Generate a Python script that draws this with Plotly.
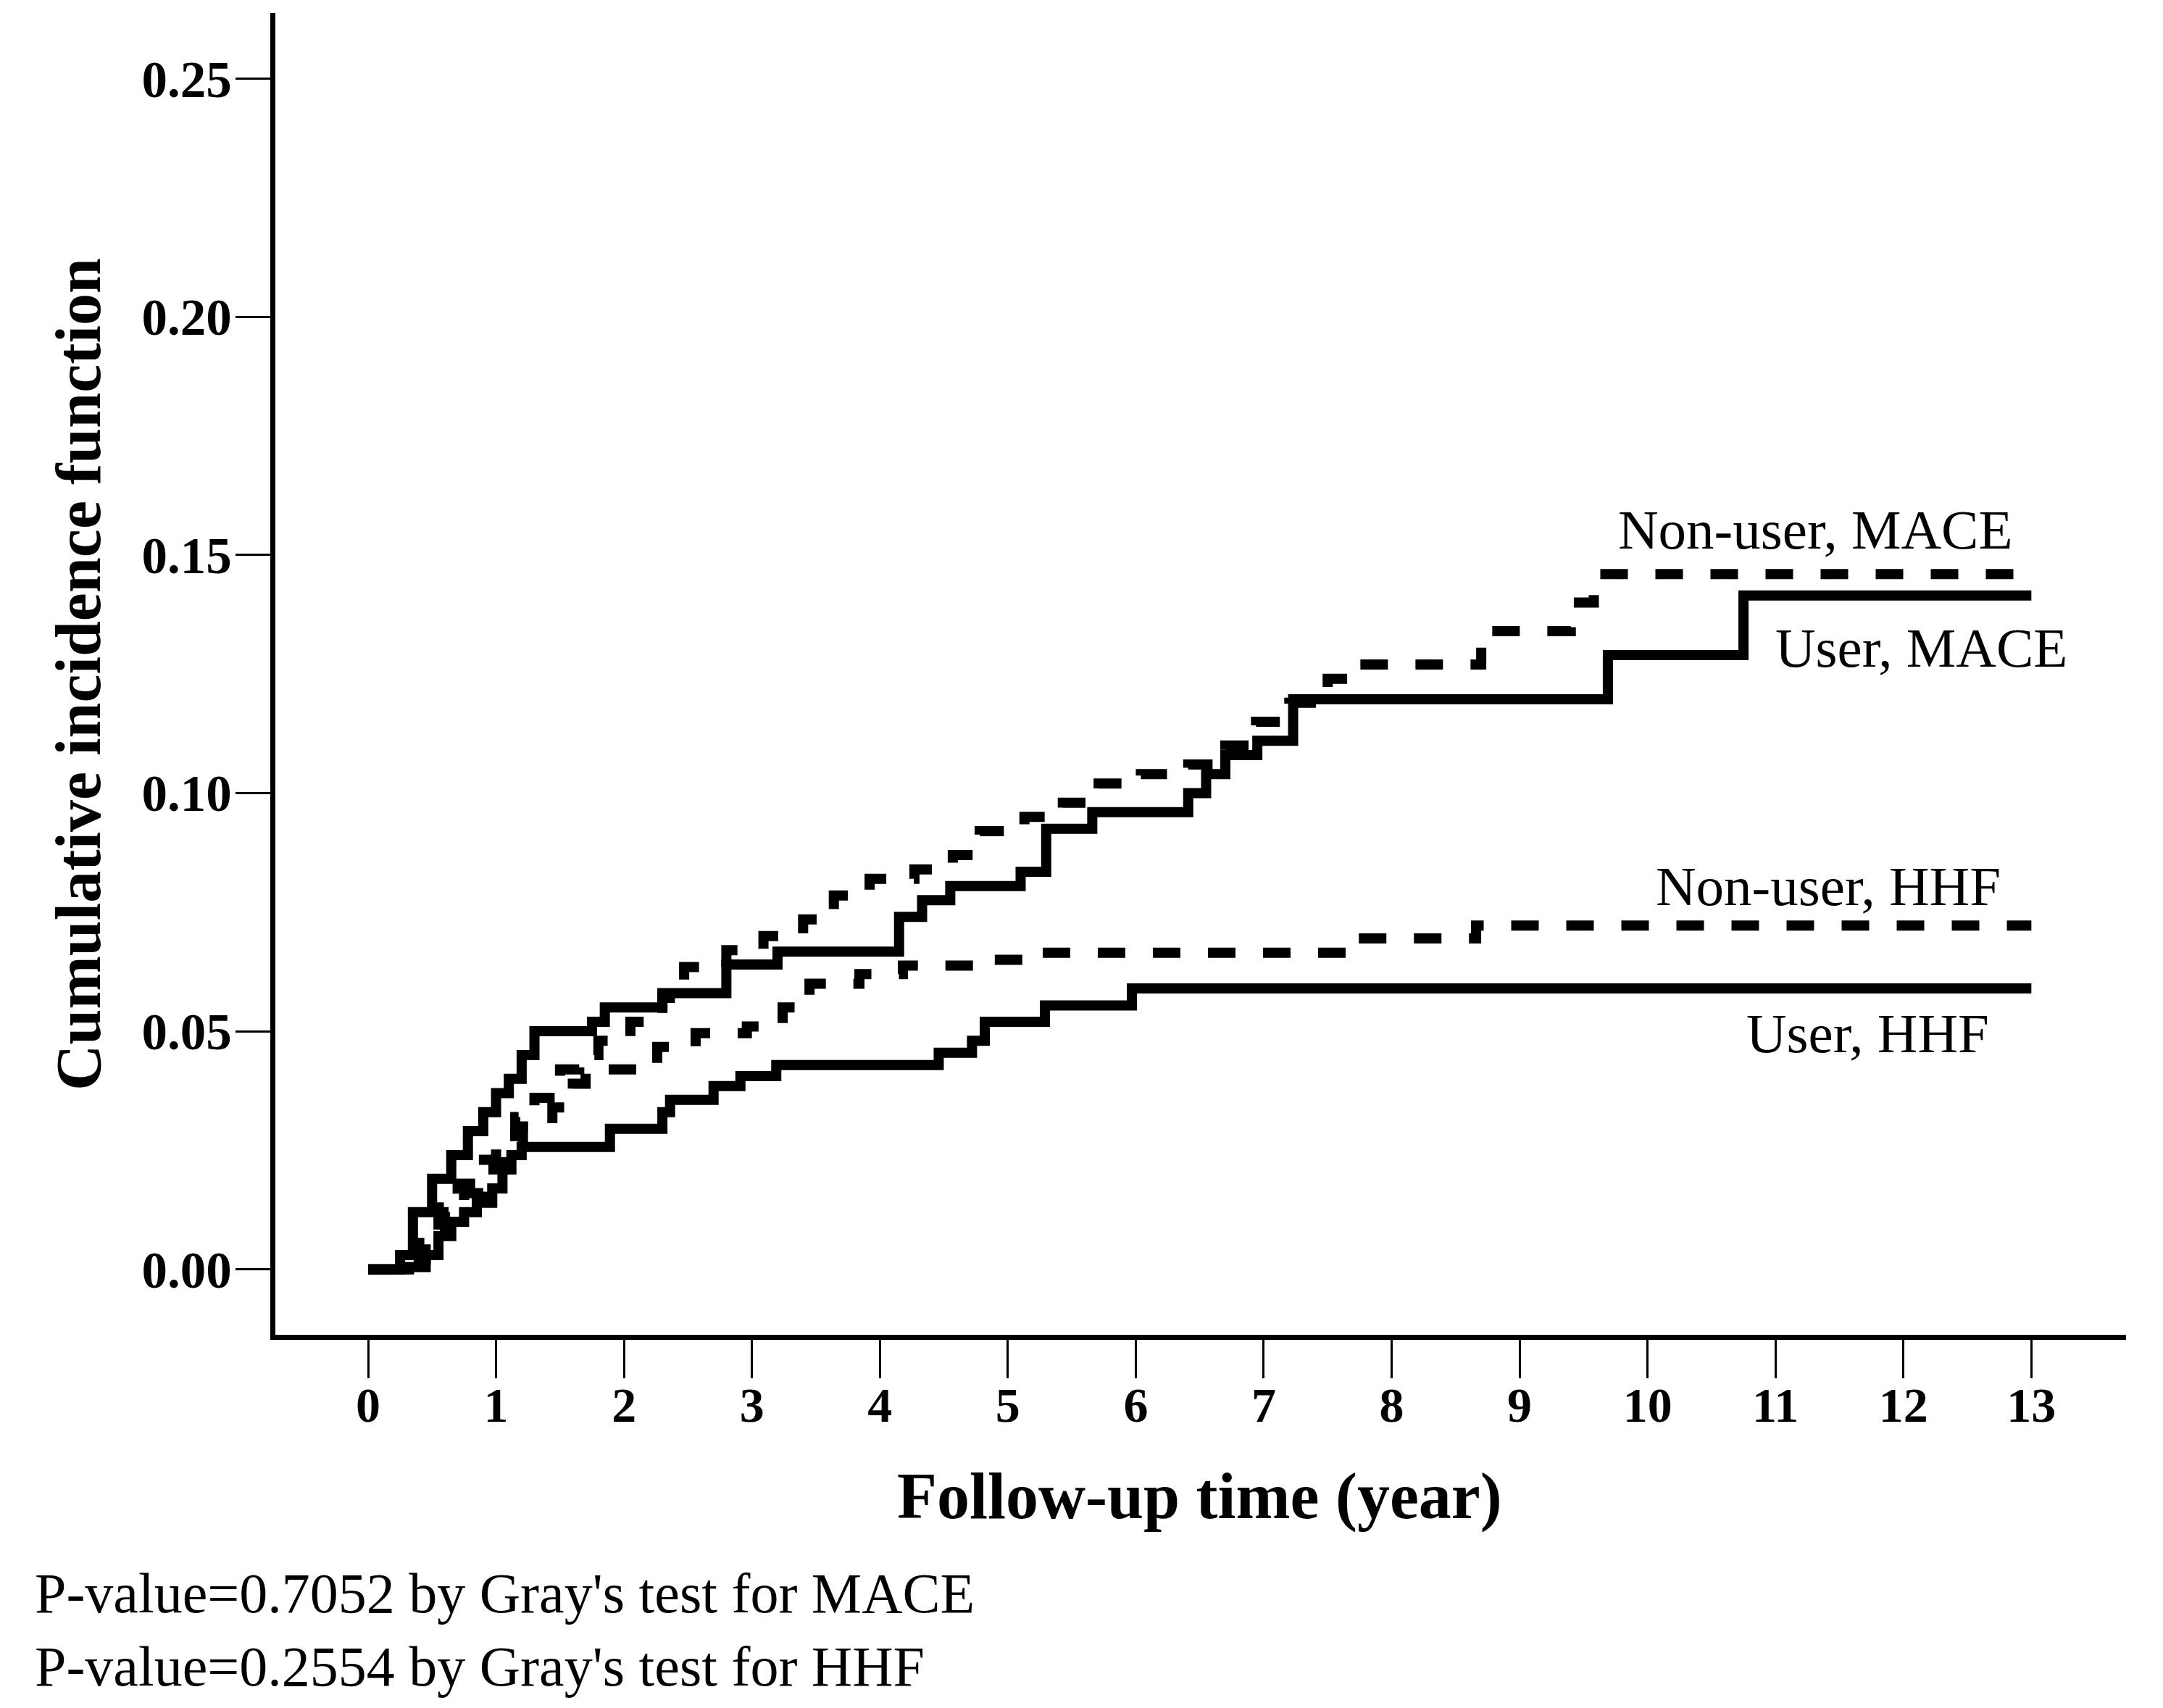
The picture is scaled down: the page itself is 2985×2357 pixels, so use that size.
import plotly.graph_objects as go

# step data (time in years, cumulative incidence)
user_mace_t = [0, 0.25, 0.35, 0.5, 0.65, 0.78, 0.9, 1.0, 1.1, 1.2, 1.3, 1.75, 1.85, 2.3, 2.8, 3.2,
               4.15, 4.33, 4.55, 5.1, 5.3, 5.66, 6.41, 6.55, 6.7, 6.95, 7.23, 9.69, 10.75, 13]
user_mace_v = [0, 0.003, 0.012, 0.019, 0.024, 0.029, 0.033, 0.037, 0.040, 0.045, 0.050, 0.052, 0.055,
               0.058, 0.064, 0.0667, 0.074, 0.0775, 0.0805, 0.0835, 0.0925, 0.096, 0.100, 0.104, 0.108,
               0.111, 0.1197, 0.129, 0.1415, 0.1415]

user_hhf_t = [0, 0.32, 0.45, 0.55, 0.65, 0.75, 0.85, 0.97, 1.05, 1.12, 1.2, 1.89, 2.3, 2.36, 2.70, 2.91,
              3.19, 4.46, 4.72, 4.82, 5.29, 5.97, 13]
user_hhf_v = [0, 0.0005, 0.003, 0.007, 0.010, 0.012, 0.014, 0.017, 0.021, 0.024, 0.0257, 0.0295, 0.033,
              0.0356, 0.0385, 0.0406, 0.0429, 0.0455, 0.048, 0.052, 0.0554, 0.059, 0.059]

nonuser_mace_t = [0, 0.28, 0.4, 0.55, 0.7, 0.85, 1.0, 1.15, 1.3, 1.5, 1.65, 1.8, 2.05, 2.3, 2.47, 2.8,
                  3.09, 3.4, 3.64, 3.92, 4.27, 4.57, 4.78, 5.13, 5.43, 5.71, 6.04, 6.41, 6.70, 6.94,
                  7.2, 7.5, 7.75, 8.7, 9.4, 9.58, 13]
nonuser_mace_v = [0, 0.003, 0.008, 0.013, 0.018, 0.023, 0.028, 0.032, 0.036, 0.042, 0.045, 0.048, 0.052,
                  0.057, 0.0635, 0.067, 0.070, 0.0735, 0.0785, 0.082, 0.084, 0.087, 0.092, 0.095, 0.098,
                  0.102, 0.104, 0.106, 0.110, 0.115, 0.119, 0.124, 0.127, 0.134, 0.140, 0.146, 0.146]

nonuser_hhf_t = [0, 0.3, 0.45, 0.6, 0.75, 0.9, 1.06, 1.21, 1.44, 1.6, 1.7, 2.26, 2.56, 2.96, 3.24, 3.45,
                 3.84, 4.18, 4.85, 5.25, 7.65, 8.66, 13]
nonuser_hhf_v = [0, 0.002, 0.007, 0.012, 0.016, 0.021, 0.026, 0.030, 0.034, 0.039, 0.042, 0.0467, 0.0496,
                 0.051, 0.055, 0.060, 0.062, 0.0638, 0.065, 0.0665, 0.0695, 0.0722, 0.0722]

x_ticks = list(range(0, 14))
y_ticks = [0.00, 0.05, 0.10, 0.15, 0.20, 0.25]

# (text, x, y) for the curve labels, in data units
curve_labels = [
    ("Non-user, MACE", 12.86, 0.1553),
    ("User, MACE", 13.29, 0.1305),
    ("Non-user, HHF", 12.77, 0.0805),
    ("User, HHF", 12.68, 0.0496),
]
p_value_lines = [
    "P-value=0.7052 by Gray's test for MACE",
    "P-value=0.2554 by Gray's test for HHF",
]

SERIF = "Liberation Serif, Times New Roman, serif"
LW = 14
DASH = "38px,38px"

fig = go.Figure()
for name, t, v, dash in [
    ("Non-user, MACE", nonuser_mace_t, nonuser_mace_v, DASH),
    ("Non-user, HHF", nonuser_hhf_t, nonuser_hhf_v, DASH),
    ("User, HHF", user_hhf_t, user_hhf_v, "solid"),
    ("User, MACE", user_mace_t, user_mace_v, "solid"),
]:
    fig.add_trace(
        go.Scatter(
            x=t,
            y=v,
            mode="lines",
            line={"color": "black", "width": LW, "dash": dash, "shape": "hv"},
            name=name,
            showlegend=False,
        )
    )

for text, x, y in curve_labels:
    fig.add_annotation(
        x=x, y=y, xref="x", yref="y", text=text, showarrow=False,
        xanchor="right", yanchor="middle",
        font={"family": SERIF, "size": 77, "color": "black"},
    )

fig.add_annotation(
    x=0.4995, y=-0.122, xref="paper", yref="paper", text="Follow-up time (year)",
    showarrow=False, xanchor="center", yanchor="middle",
    font={"family": SERIF, "size": 90, "color": "black", "weight": "bold"},
)
fig.add_annotation(
    x=-0.1065, y=0.5, xref="paper", yref="paper", text="Cumulative incidence function",
    showarrow=False, xanchor="center", yanchor="middle", textangle=-90,
    font={"family": SERIF, "size": 88, "color": "black", "weight": "bold"},
)
# both p-value lines in one left-aligned block
fig.add_annotation(
    x=-0.1308, y=-0.2233, xref="paper", yref="paper", text="<br>".join(p_value_lines),
    showarrow=False, xanchor="left", yanchor="middle", align="left",
    font={"family": SERIF, "size": 78, "color": "black"},
)

fig.update_layout(
    width=2985,
    height=2357,
    margin={"l": 380, "r": 51, "t": 18, "b": 515},
    paper_bgcolor="white",
    plot_bgcolor="white",
    showlegend=False,
)
fig.update_xaxes(
    range=[-0.725, 13.74],
    tickvals=x_ticks,
    ticktext=[str(v) for v in x_ticks],
    showgrid=False,
    zeroline=False,
    showline=True,
    linecolor="black",
    linewidth=7,
    ticks="outside",
    ticklen=53,
    tickwidth=3,
    tickcolor="black",
    ticklabelstandoff=-22,
    tickfont={"family": SERIF, "size": 68, "color": "black", "weight": "bold"},
)
fig.update_yaxes(
    range=[-0.01374, 0.2638],
    tickvals=y_ticks,
    ticktext=[f"{v:.2f}" for v in y_ticks],
    showgrid=False,
    zeroline=False,
    showline=True,
    linecolor="black",
    linewidth=7,
    ticks="outside",
    ticklen=48,
    tickwidth=3,
    tickcolor="black",
    ticklabelstandoff=-9,
    tickfont={"family": SERIF, "size": 71, "color": "black", "weight": "bold"},
)

fig.write_html(
    "out.html",
    config={"displayModeBar": False},
    post_script="document.body.style.margin='0';",
)
